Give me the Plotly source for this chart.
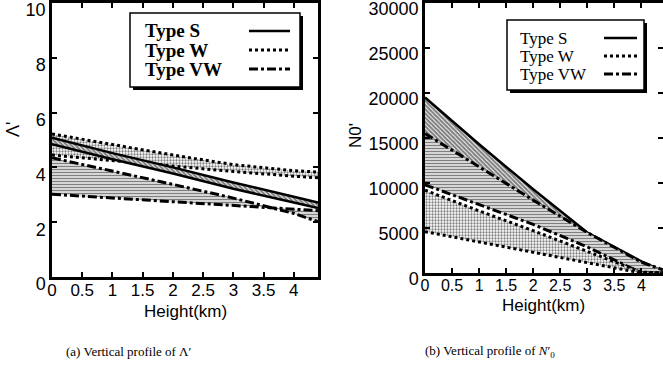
import plotly.graph_objects as go

W_PX, H_PX = 663, 384

# ---------------- data ----------------
heights = [0, 1, 2, 3, 4, 4.4]

# (a) Lambda'
lam_S_upper = [5.08, 4.52, 4.0, 3.45, 2.93, 2.72]
lam_S_lower = [4.85, 4.30, 3.78, 3.22, 2.72, 2.52]
lam_W_upper = [5.22, 4.83, 4.45, 4.10, 3.88, 3.83]
lam_W_lower = [4.45, 4.25, 4.05, 3.85, 3.68, 3.62]
lam_VW_upper = [4.35, 3.87, 3.38, 2.88, 2.32, 2.02]
lam_VW_lower = [3.02, 2.88, 2.75, 2.62, 2.48, 2.42]

# (b) N0'
n0_S_upper = [19500, 14300, 9300, 4500, 1300, 200]
n0_S_lower = [12500, 9600, 6700, 3700, 250, 0]
n0_VW_upper = [15500, 11800, 8100, 4500, 1200, 350]
n0_VW_lower = [9800, 7600, 5400, 2900, 0, 0]
n0_W_upper = [9200, 6900, 4700, 2400, 100, 0]
n0_W_lower = [4600, 3450, 2300, 1100, 0, 0]

type_names = ["Type S", "Type W", "Type VW"]
lam_ticks = [0, 2, 4, 6, 8, 10]
lam_tick_text = ["0", "2", "4", "6", "8", "10"]
n0_ticks = [0, 5000, 10000, 15000, 20000, 25000, 30000]
n0_tick_text = ["0", "5000", "10000", "15000", "20000", "25000", "30000"]
x_ticks = [0, 0.5, 1, 1.5, 2, 2.5, 3, 3.5, 4]
x_tick_text = ["0", "0.5", "1", "1.5", "2", "2.5", "3", "3.5", "4"]

# ---------------- styles ----------------
styles = {
    "S": dict(dash="solid", width=2.5,
              pattern=dict(shape="\\", fgcolor="black", bgcolor="white", size=3, solidity=0.7)),
    "W": dict(dash="dot", width=3,
              pattern=dict(shape=".", fgcolor="black", bgcolor="white", size=3, solidity=0.45)),
    "VW": dict(dash="dashdot", width=3,
               pattern=dict(shape="-", fgcolor="black", bgcolor="white", size=3, solidity=0.55)),
}

fig = go.Figure()


def add_band(lower, upper, key, xa, ya):
    st = styles[key]
    fig.add_trace(go.Scatter(x=heights, y=lower, mode="lines", xaxis=xa, yaxis=ya,
                             line=dict(color="black", width=st["width"], dash=st["dash"]),
                             showlegend=False, hoverinfo="skip"))
    fig.add_trace(go.Scatter(x=heights, y=upper, mode="lines", xaxis=xa, yaxis=ya,
                             line=dict(color="black", width=st["width"], dash=st["dash"]),
                             fill="tonexty", fillcolor="white", fillpattern=st["pattern"],
                             showlegend=False, hoverinfo="skip"))


# left panel
add_band(lam_W_lower, lam_W_upper, "W", "x", "y")
add_band(lam_S_lower, lam_S_upper, "S", "x", "y")
add_band(lam_VW_lower, lam_VW_upper, "VW", "x", "y")
# right panel
add_band(n0_S_lower, n0_S_upper, "S", "x2", "y2")
add_band(n0_VW_lower, n0_VW_upper, "VW", "x2", "y2")
add_band(n0_W_lower, n0_W_upper, "W", "x2", "y2")


def px(x):
    return x / W_PX


def py(y):
    return 1 - y / H_PX


def axis_style(size, **extra):
    d = dict(showline=True, linecolor="black", linewidth=2.5, mirror="ticks",
             ticks="inside", ticklen=5, tickwidth=1.5, tickcolor="black",
             showgrid=False, zeroline=False, ticklabeloverflow="allow", automargin=False,
             tickfont=dict(family="Liberation Sans, Arial, sans-serif", size=size, color="black"))
    d.update(extra)
    return d


fig.update_layout(
    width=W_PX, height=H_PX,
    margin=dict(l=0, r=0, t=0, b=0, pad=0, autoexpand=False),
    paper_bgcolor="white", plot_bgcolor="white",
    xaxis=dict(domain=[px(52), px(318)], range=[0, 4.4], anchor="y",
               tickvals=x_ticks, ticktext=x_tick_text,
               **axis_style(17, ticklabelstandoff=-4)),
    yaxis=dict(domain=[py(277), py(3)], range=[0, 10], anchor="x",
               tickvals=lam_ticks, ticktext=lam_tick_text,
               **axis_style(18, ticklabelshift=7)),
    xaxis2=dict(domain=[px(425), 1.0], range=[0, 4.4], anchor="y2",
                tickvals=x_ticks, ticktext=x_tick_text,
                **axis_style(16, ticklabelstandoff=-4)),
    yaxis2=dict(domain=[py(273), py(3)], range=[0, 30000], anchor="x2",
                tickvals=n0_ticks, ticktext=n0_tick_text,
                **axis_style(18, ticklabelshift=6)),
)

annotations = []
shapes = []


def note(text, x, y, font, **kw):
    d = dict(text=text, x=px(x), y=py(y), xref="paper", yref="paper", showarrow=False,
             xanchor="center", yanchor="middle", font=font)
    d.update(kw)
    annotations.append(d)


title_font = dict(family="Liberation Sans, Arial, sans-serif", size=17, color="black")
note("Height(km)", 185, 311, title_font)
note("Height(km)", 543, 305, title_font)
note("Λ'", 13, 130, dict(title_font, size=18), textangle=-90)
note("N0'", 355, 136, dict(title_font, size=17), textangle=-90)

cap_font = dict(family="Liberation Serif, Times New Roman, serif", size=13, color="black")
note("(a) Vertical profile of Λ′", 129, 351, cap_font)
note("(b) Vertical profile of <i>N</i>′<sub>0</sub>", 490, 351, cap_font)


def legend_box(x0, y0, x1, y1, rows_y, text_x, line_x0, line_x1, bold, size):
    # shadow
    shapes.append(dict(type="rect", xref="paper", yref="paper",
                       x0=px(x0 + 3), x1=px(x1 + 3), y0=py(y1 + 3), y1=py(y0 + 3),
                       fillcolor="black", line=dict(width=0)))
    shapes.append(dict(type="rect", xref="paper", yref="paper",
                       x0=px(x0), x1=px(x1), y0=py(y1), y1=py(y0),
                       fillcolor="white", line=dict(color="black", width=1.5)))
    keys = ["S", "W", "VW"]
    for name, key, ry in zip(type_names, keys, rows_y):
        txt = f"<b>{name}</b>" if bold else name
        note(txt, text_x, ry,
             dict(family="Liberation Serif, Times New Roman, serif", size=size, color="black"),
             xanchor="left")
        st = styles[key]
        shapes.append(dict(type="line", xref="paper", yref="paper",
                           x0=px(line_x0), x1=px(line_x1), y0=py(ry), y1=py(ry),
                           line=dict(color="black", width=st["width"], dash=st["dash"])))


legend_box(130, 13, 300, 87, [31, 50, 69], 143, 249, 290, True, 19)
legend_box(507, 20, 644, 90, [38, 56, 74], 518, 604, 637, False, 17)

fig.update_layout(annotations=annotations, shapes=shapes)

fig.write_html("out.html")
